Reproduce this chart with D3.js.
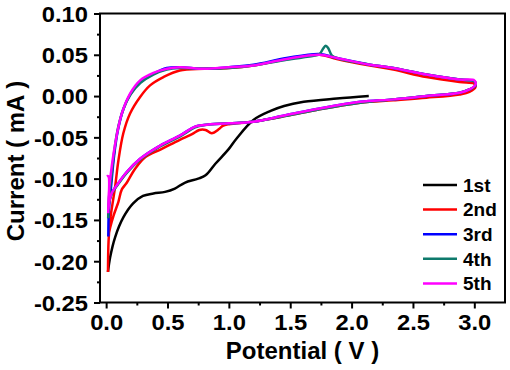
<!DOCTYPE html>
<html>
<head>
<meta charset="utf-8">
<script src="https://cdn.jsdelivr.net/npm/d3@7"></script>
<style>
  body { margin: 0; background: #fff; }
  text { font-family: "Liberation Sans", Arial, sans-serif; font-weight: bold; }
</style>
</head>
<body>
<div id="chart"></div>
<script>
// Potential (V), Current (mA)
const cycle1 = [
  [2.14, 0.000], [1.88, -0.003], [1.61, -0.007], [1.45, -0.012], [1.34, -0.018],
  [1.20, -0.029], [1.06, -0.052], [1.00, -0.064], [0.89, -0.082], [0.81, -0.096],
  [0.75, -0.100], [0.64, -0.105], [0.56, -0.112], [0.48, -0.116], [0.385, -0.118],
  [0.30, -0.121], [0.22, -0.130], [0.14, -0.147], [0.073, -0.171], [0.033, -0.195],
  [0.015, -0.213]
];
const cycle2 = [
  [0.015, -0.213], [0.02, -0.175], [0.033, -0.150], [0.073, -0.110], [0.10, -0.078],
  [0.14, -0.045], [0.195, -0.021], [0.277, -0.001], [0.358, 0.013], [0.467, 0.023],
  [0.60, 0.031], [0.80, 0.033], [1.00, 0.034], [1.20, 0.037], [1.47, 0.045],
  [1.74, 0.050], [1.88, 0.045], [2.15, 0.037], [2.34, 0.032], [2.61, 0.023],
  [2.88, 0.017], [3.00, 0.015], [3.01, 0.011], [2.96, 0.005], [2.88, 0.002],
  [2.61, -0.002], [2.34, -0.005], [2.07, -0.008], [1.74, -0.016], [1.47, -0.024],
  [1.20, -0.031], [1.00, -0.034], [0.95, -0.036], [0.92, -0.040], [0.86, -0.045],
  [0.81, -0.041], [0.76, -0.041], [0.70, -0.046], [0.60, -0.053], [0.454, -0.064],
  [0.318, -0.074], [0.236, -0.088], [0.168, -0.105], [0.128, -0.113], [0.10, -0.128],
  [0.06, -0.145], [0.033, -0.159], [0.018, -0.170]
];
const cycle3 = [
  [0.018, -0.170], [0.022, -0.140], [0.04, -0.110], [0.065, -0.072], [0.095, -0.042],
  [0.14, -0.016], [0.20, 0.003], [0.28, 0.017], [0.385, 0.027], [0.494, 0.034],
  [0.60, 0.035], [0.80, 0.033], [1.00, 0.035], [1.20, 0.038], [1.47, 0.046],
  [1.74, 0.051], [1.88, 0.046], [2.15, 0.038], [2.34, 0.034], [2.61, 0.026],
  [2.88, 0.020], [3.00, 0.018], [3.01, 0.013], [2.96, 0.008], [2.88, 0.004],
  [2.61, 0.000], [2.34, -0.004], [2.07, -0.007], [1.74, -0.015], [1.47, -0.023],
  [1.20, -0.031], [1.00, -0.033], [0.80, -0.035], [0.725, -0.037], [0.60, -0.048],
  [0.44, -0.060], [0.277, -0.076], [0.168, -0.092], [0.087, -0.108], [0.047, -0.117],
  [0.022, -0.132], [0.017, -0.148]
];
const cycle4 = [
  [0.017, -0.148], [0.022, -0.125], [0.04, -0.102], [0.065, -0.068], [0.095, -0.040],
  [0.14, -0.016], [0.20, 0.002], [0.28, 0.016], [0.385, 0.026], [0.494, 0.032],
  [0.60, 0.034], [0.80, 0.033], [1.00, 0.034], [1.20, 0.037], [1.47, 0.044],
  [1.70, 0.049], [1.74, 0.051], [1.77, 0.058], [1.79, 0.061], [1.81, 0.058],
  [1.84, 0.049], [1.90, 0.045], [2.15, 0.038], [2.34, 0.034], [2.61, 0.026],
  [2.88, 0.020], [3.00, 0.018], [3.01, 0.013], [2.96, 0.008], [2.88, 0.004],
  [2.61, 0.000], [2.34, -0.004], [2.07, -0.008], [1.74, -0.016], [1.47, -0.024],
  [1.20, -0.031], [1.00, -0.033], [0.80, -0.035], [0.725, -0.038], [0.60, -0.049],
  [0.44, -0.061], [0.277, -0.077], [0.168, -0.093], [0.087, -0.109], [0.047, -0.118],
  [0.022, -0.130], [0.017, -0.142]
];
const cycle5 = [
  [0.017, -0.142], [0.022, -0.118], [0.035, -0.098], [0.06, -0.070], [0.087, -0.047],
  [0.128, -0.021], [0.195, 0.003], [0.277, 0.019], [0.385, 0.028], [0.494, 0.033],
  [0.60, 0.035], [0.80, 0.033], [1.00, 0.035], [1.20, 0.037], [1.47, 0.045],
  [1.74, 0.050], [1.88, 0.046], [2.15, 0.038], [2.34, 0.034], [2.61, 0.026],
  [2.88, 0.020], [3.00, 0.019], [3.01, 0.014], [2.96, 0.008], [2.88, 0.004],
  [2.61, 0.000], [2.34, -0.004], [2.07, -0.007], [1.74, -0.015], [1.47, -0.023],
  [1.20, -0.031], [1.00, -0.033], [0.80, -0.035], [0.725, -0.037], [0.60, -0.048],
  [0.44, -0.060], [0.277, -0.076], [0.168, -0.092], [0.087, -0.108], [0.047, -0.117],
  [0.025, -0.128], [0.018, -0.138], [0.018, -0.097], [0.005, -0.097]
];

const seriesNames = ["1st", "2nd", "3rd", "4th", "5th"];
const seriesData = [cycle1, cycle2, cycle3, cycle4, cycle5];
const seriesColors = ["#000000", "#ff0000", "#0000ff", "#0e7a6c", "#ff00ff"];

const xTicks = [0, 0.5, 1.0, 1.5, 2.0, 2.5, 3.0];
const xMinor = [0.25, 0.75, 1.25, 1.75, 2.25, 2.75];
const yTicks = [-0.25, -0.20, -0.15, -0.10, -0.05, 0.00, 0.05, 0.10];
const yMinor = [-0.225, -0.175, -0.125, -0.075, -0.025, 0.025, 0.075];

const W = 510, H = 370;
const margin = { top: 13.5, right: 5, bottom: 67.5, left: 100 };
const width = W - margin.left - margin.right;
const height = H - margin.top - margin.bottom;

const fmt = d3.formatLocale({ decimal: ".", thousands: ",", grouping: [3], currency: ["", ""], minus: "-" });

const svg = d3.select("#chart").append("svg")
  .attr("width", W)
  .attr("height", H)
  .append("g")
  .attr("transform", `translate(${margin.left},${margin.top})`);

// Scales
const x = d3.scaleLinear().domain([-0.05, 3.25]).range([0, width]);
const y = d3.scaleLinear().domain([-0.25, 0.10]).range([height, 0]);

// Axes
const xAxis = svg.append("g")
  .attr("transform", `translate(0,${height})`)
  .call(d3.axisBottom(x).tickValues(xTicks).tickSize(6).tickPadding(5).tickFormat(fmt.format(".1f")));
svg.append("g")
  .attr("transform", `translate(0,${height})`)
  .call(d3.axisBottom(x).tickValues(xMinor).tickSize(3).tickFormat(""));

const yAxis = svg.append("g")
  .call(d3.axisLeft(y).tickValues(yTicks).tickSize(6).tickPadding(6).tickFormat(fmt.format(".2f")));
svg.append("g")
  .call(d3.axisLeft(y).tickValues(yMinor).tickSize(3).tickFormat(""));

svg.selectAll(".domain").remove();
svg.selectAll(".tick line").attr("stroke", "#000").attr("stroke-width", 2);

// tick labels in the original are a little wider than the plain font
xAxis.selectAll("text")
  .attr("font-size", 22).attr("fill", "#000").attr("dy", "0.75em")
  .attr("transform", "scale(1.08,1)")
  .attr("x", 0);
yAxis.selectAll("text")
  .attr("font-size", 22).attr("fill", "#000").attr("dy", "0.36em")
  .attr("x", -12 / 1.08)
  .attr("transform", "scale(1.08,1)");

// Frame
svg.append("rect")
  .attr("width", width)
  .attr("height", height)
  .attr("fill", "none")
  .attr("stroke", "#000")
  .attr("stroke-width", 2);

// Curves
const line = d3.line()
  .x(d => x(d[0]))
  .y(d => y(d[1]))
  .curve(d3.curveCatmullRom.alpha(0.5));

seriesData.forEach((data, i) => {
  svg.append("path")
    .datum(data)
    .attr("fill", "none")
    .attr("stroke", seriesColors[i])
    .attr("stroke-width", 2.5)
    .attr("stroke-linejoin", "round")
    .attr("d", line);
});

// Axis titles
svg.append("text")
  .attr("x", width / 2)
  .attr("y", 359 - margin.top)
  .attr("text-anchor", "middle")
  .attr("font-size", 24)
  .text("Potential ( V )");

svg.append("text")
  .attr("transform", `translate(${24 - margin.left},${height / 2 + 3}) rotate(-90)`)
  .attr("text-anchor", "middle")
  .attr("font-size", 24)
  .text("Current ( mA )");

// Legend
const legend = svg.append("g").attr("transform", `translate(${423 - margin.left},${185 - margin.top})`);
seriesNames.forEach((name, i) => {
  const row = legend.append("g").attr("transform", `translate(0,${i * 24.6})`);
  row.append("line")
    .attr("x1", 0).attr("x2", 34)
    .attr("stroke", seriesColors[i])
    .attr("stroke-width", 2.5);
  row.append("text")
    .attr("x", 40)
    .attr("dy", "0.36em")
    .attr("font-size", 19)
    .text(name);
});
</script>
</body>
</html>
